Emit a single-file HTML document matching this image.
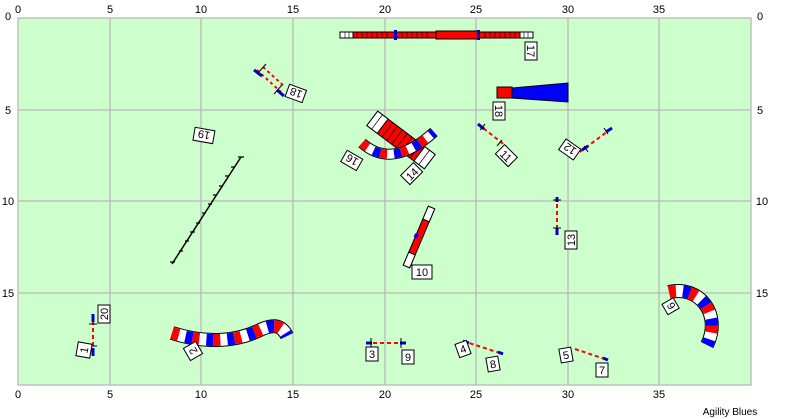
<!DOCTYPE html>
<html><head><meta charset="utf-8"><style>
html,body{margin:0;padding:0;background:#fff;}
svg{display:block;font-family:"Liberation Sans",sans-serif;}
</style></head><body>
<svg width="800" height="419" viewBox="0 0 800 419" xmlns="http://www.w3.org/2000/svg">
<rect x="18" y="18" width="733" height="367" fill="#ccffcc"/>
<g stroke="#b8b8b8" stroke-width="1.3">
<line x1="110" y1="18" x2="110" y2="385"/><line x1="201" y1="18" x2="201" y2="385"/>
<line x1="293" y1="18" x2="293" y2="385"/><line x1="385" y1="18" x2="385" y2="385"/>
<line x1="476" y1="18" x2="476" y2="385"/><line x1="568" y1="18" x2="568" y2="385"/>
<line x1="659" y1="18" x2="659" y2="385"/>
<line x1="18" y1="110" x2="751" y2="110"/><line x1="18" y1="201" x2="751" y2="201"/>
<line x1="18" y1="293" x2="751" y2="293"/>
<rect x="18" y="18" width="733" height="367" fill="none"/>
</g>
<g font-size="11" fill="#000" text-anchor="middle">
<text x="18" y="13">0</text><text x="110" y="13">5</text><text x="201" y="13">10</text><text x="293" y="13">15</text><text x="385" y="13">20</text><text x="476" y="13">25</text><text x="568" y="13">30</text><text x="659" y="13">35</text>
<text x="18" y="398">0</text><text x="110" y="398">5</text><text x="201" y="398">10</text><text x="293" y="398">15</text><text x="385" y="398">20</text><text x="476" y="398">25</text><text x="568" y="398">30</text><text x="659" y="398">35</text>
<text x="8" y="20">0</text><text x="8" y="114">5</text><text x="8" y="205">10</text><text x="8" y="297">15</text>
<text x="760" y="20">0</text><text x="760" y="114">5</text><text x="762" y="205">10</text><text x="762" y="297">15</text>
<text x="730" y="415" font-size="10">Agility Blues</text>
</g>
<!-- dog walk -->
<rect x="340" y="32" width="193" height="6" fill="#f00" stroke="#000" stroke-width="1"/>
<rect x="340" y="32" width="13" height="6" fill="#fff" stroke="#000" stroke-width="1"/>
<rect x="520" y="32" width="13" height="6" fill="#fff" stroke="#000" stroke-width="1"/>
<rect x="436" y="31" width="42" height="8" fill="#f00" stroke="#000" stroke-width="1"/>
<rect x="394" y="30" width="3" height="10" fill="#00c"/><rect x="477" y="30" width="3" height="10" fill="#00c"/>
<g stroke="#000" stroke-width="0.6">
<path d="M357 32v6M362 32v6M367 32v6M372 32v6M377 32v6M382 32v6M387 32v6M402 32v6M407 32v6M412 32v6M417 32v6M422 32v6M427 32v6M485 32v6M490 32v6M495 32v6M500 32v6M505 32v6M510 32v6M515 32v6M524 32v6M528 32v6M345 32v6M349 32v6"/>
</g>
<!-- tunnel top right -->
<rect x="497" y="87" width="15" height="11" fill="#f00" stroke="#000"/>
<polygon points="512,88 568,83 568,102 512,98" fill="#00f" stroke="#000"/>
<!-- A-frame -->
<g transform="translate(401,140) rotate(37)">
<rect x="-36" y="-9" width="72" height="18" fill="#f00" stroke="#000"/>
<rect x="-36" y="-9" width="13" height="18" fill="#fff" stroke="#000"/>
<rect x="23" y="-9" width="13" height="18" fill="#fff" stroke="#000"/>
<path d="M-17 -9v18M-11 -9v18M-5 -9v18M1 -9v18M7 -9v18M13 -9v18M18 -9v18M-30 -9v18M29 -9v18" stroke="#000" stroke-width="0.7"/>
</g>
<!-- tunnel 16 -->
<path d="M362 143 Q392 170 434 132" fill="none" stroke="#000" stroke-width="11"/>
<path d="M362 143 Q392 170 434 132" fill="none" stroke="#fff" stroke-width="9"/>
<path d="M362 143 Q392 170 434 132" fill="none" stroke="#f00" stroke-width="9" stroke-dasharray="7 14"/>
<path d="M362 143 Q392 170 434 132" fill="none" stroke="#00f" stroke-width="9" stroke-dasharray="7 14" stroke-dashoffset="-14"/>
<!-- tunnel 2 -->
<path d="M172 333 C210 345 240 340 260 330 C275 323 282 326 287 336" fill="none" stroke="#000" stroke-width="14"/>
<path d="M172 333 C210 345 240 340 260 330 C275 323 282 326 287 336" fill="none" stroke="#fff" stroke-width="12"/>
<path d="M172 333 C210 345 240 340 260 330 C275 323 282 326 287 336" fill="none" stroke="#f00" stroke-width="12" stroke-dasharray="7 14"/>
<path d="M172 333 C210 345 240 340 260 330 C275 323 282 326 287 336" fill="none" stroke="#00f" stroke-width="12" stroke-dasharray="7 14" stroke-dashoffset="-14"/>
<!-- tunnel 6 -->
<path d="M669 292 C700 285 722 315 707 345" fill="none" stroke="#000" stroke-width="14"/>
<path d="M669 292 C700 285 722 315 707 345" fill="none" stroke="#fff" stroke-width="12"/>
<path d="M669 292 C700 285 722 315 707 345" fill="none" stroke="#f00" stroke-width="12" stroke-dasharray="7 14"/>
<path d="M669 292 C700 285 722 315 707 345" fill="none" stroke="#00f" stroke-width="12" stroke-dasharray="7 14" stroke-dashoffset="-14"/>
<!-- teeter -->
<g transform="translate(419,237) rotate(-67)">
<rect x="-32" y="-3.5" width="64" height="7" fill="#f00" stroke="#000"/>
<rect x="-32" y="-3.5" width="14" height="7" fill="#fff" stroke="#000"/>
<rect x="18" y="-3.5" width="14" height="7" fill="#fff" stroke="#000"/>
<rect x="-2" y="-5" width="4" height="4" fill="#00f"/>
</g>
<!-- weave -->
<line x1="172" y1="264" x2="241" y2="157" stroke="#000" stroke-width="1.5"/>
<g stroke="#000" stroke-width="1.2">
<path d="M170 262h5M179 251h4M185 241h4M190 232h5M196 223h4M202 213h4M208 204h4M213 195h4M219 186h4M225 176h4M231 167h4M238 157h6"/>
</g>
<!-- jumps -->
<g stroke-width="2">
<line x1="257" y1="70" x2="281" y2="92" stroke="#f00" stroke-dasharray="3 3"/>
<line x1="263" y1="67" x2="285" y2="87" stroke="#f00" stroke-dasharray="3 3"/>
<line x1="478" y1="124" x2="506" y2="146" stroke="#f00" stroke-dasharray="4 3"/>
<line x1="580" y1="152" x2="612" y2="128" stroke="#f00" stroke-dasharray="4 3"/>
<line x1="557" y1="197" x2="557" y2="235" stroke="#f00" stroke-dasharray="4 3"/>
<line x1="93" y1="314" x2="93" y2="356" stroke="#f00" stroke-dasharray="4 3"/>
<line x1="366" y1="343" x2="406" y2="343" stroke="#f00" stroke-dasharray="4 3"/>
<line x1="463" y1="341" x2="503" y2="354" stroke="#f00" stroke-dasharray="4 3"/>
<line x1="575" y1="349" x2="608" y2="360" stroke="#f00" stroke-dasharray="4 3"/>
</g>
<g stroke="#00c" stroke-width="3">
<line x1="254" y1="70" x2="262" y2="76"/><line x1="277" y1="90" x2="284" y2="96"/>
<line x1="478" y1="124" x2="484" y2="129"/><line x1="582" y1="150" x2="588" y2="146"/><line x1="606" y1="132" x2="612" y2="128"/>
<line x1="557" y1="197" x2="557" y2="202"/><line x1="557" y1="228" x2="557" y2="235"/>
<line x1="93" y1="314" x2="93" y2="322"/><line x1="93" y1="348" x2="93" y2="356"/>
<line x1="366" y1="343" x2="372" y2="343"/><line x1="400" y1="343" x2="406" y2="343"/>
<line x1="463" y1="341" x2="469" y2="343"/><line x1="498" y1="352" x2="503" y2="354"/>
<line x1="603" y1="358" x2="608" y2="360"/>
</g>
<g stroke="#000" stroke-width="1">
<path d="M371 338v10M401 338v10M553 200h8M553 228h8M89 324h8M89 346h8M485 124l-5 6M502 140l-5 6M584 146l4 6M604 128l4 6M266 64l-8 9M282 85l-8 9"/>
</g>
<!-- labels -->
<g font-size="11" text-anchor="middle">
<g transform="translate(531,51) rotate(90)"><rect x="-9" y="-6" width="18" height="12" fill="#fff" stroke="#000"/><text y="4">17</text></g>
<g transform="translate(499,111) rotate(90)"><rect x="-9" y="-6" width="18" height="12" fill="#fff" stroke="#000"/><text y="4">18</text></g>
<g transform="translate(296,93) rotate(-160)"><rect x="-9" y="-7" width="18" height="13" fill="#fff" stroke="#000"/><text y="4">18</text></g>
<g transform="translate(204,135) rotate(-170)"><rect x="-10" y="-7" width="20" height="13" fill="#fff" stroke="#000"/><text y="4">19</text></g>
<g transform="translate(352,160) rotate(-150)"><rect x="-9" y="-7" width="18" height="13" fill="#fff" stroke="#000"/><text y="4">16</text></g>
<g transform="translate(412,174) rotate(-45)"><rect x="-9" y="-7" width="18" height="13" fill="#fff" stroke="#000"/><text y="4">14</text></g>
<g transform="translate(506,156) rotate(45)"><rect x="-9" y="-7" width="18" height="13" fill="#fff" stroke="#000"/><text y="4">11</text></g>
<g transform="translate(570,149) rotate(-145)"><rect x="-9" y="-7" width="18" height="13" fill="#fff" stroke="#000"/><text y="4">12</text></g>
<g transform="translate(571,240) rotate(-90)"><rect x="-9" y="-6" width="18" height="12" fill="#fff" stroke="#000"/><text y="4">13</text></g>
<g transform="translate(422,272)"><rect x="-10" y="-7" width="20" height="14" fill="#fff" stroke="#000"/><text y="4">10</text></g>
<g transform="translate(671,306) rotate(-120)"><rect x="-6" y="-7" width="12" height="13" fill="#fff" stroke="#000"/><text y="4">6</text></g>
<g transform="translate(104,314) rotate(-90)"><rect x="-9" y="-6" width="18" height="12" fill="#fff" stroke="#000"/><text y="4">20</text></g>
<g transform="translate(84,350) rotate(-80)"><rect x="-7" y="-7" width="14" height="14" fill="#fff" stroke="#000"/><text y="4">1</text></g>
<g transform="translate(193,351) rotate(-120)"><rect x="-7" y="-7" width="14" height="14" fill="#fff" stroke="#000"/><text y="4">2</text></g>
<g transform="translate(372,354)"><rect x="-6" y="-7" width="12" height="14" fill="#fff" stroke="#000"/><text y="4">3</text></g>
<g transform="translate(408,357)"><rect x="-6" y="-7" width="12" height="14" fill="#fff" stroke="#000"/><text y="4">9</text></g>
<g transform="translate(463,349) rotate(-20)"><rect x="-6" y="-7" width="12" height="14" fill="#fff" stroke="#000"/><text y="4">4</text></g>
<g transform="translate(493,364) rotate(-10)"><rect x="-6" y="-7" width="12" height="14" fill="#fff" stroke="#000"/><text y="4">8</text></g>
<g transform="translate(566,355) rotate(-10)"><rect x="-6" y="-7" width="12" height="14" fill="#fff" stroke="#000"/><text y="4">5</text></g>
<g transform="translate(602,370)"><rect x="-6" y="-7" width="12" height="14" fill="#fff" stroke="#000"/><text y="4">7</text></g>
</g>
</svg>
</body></html>
